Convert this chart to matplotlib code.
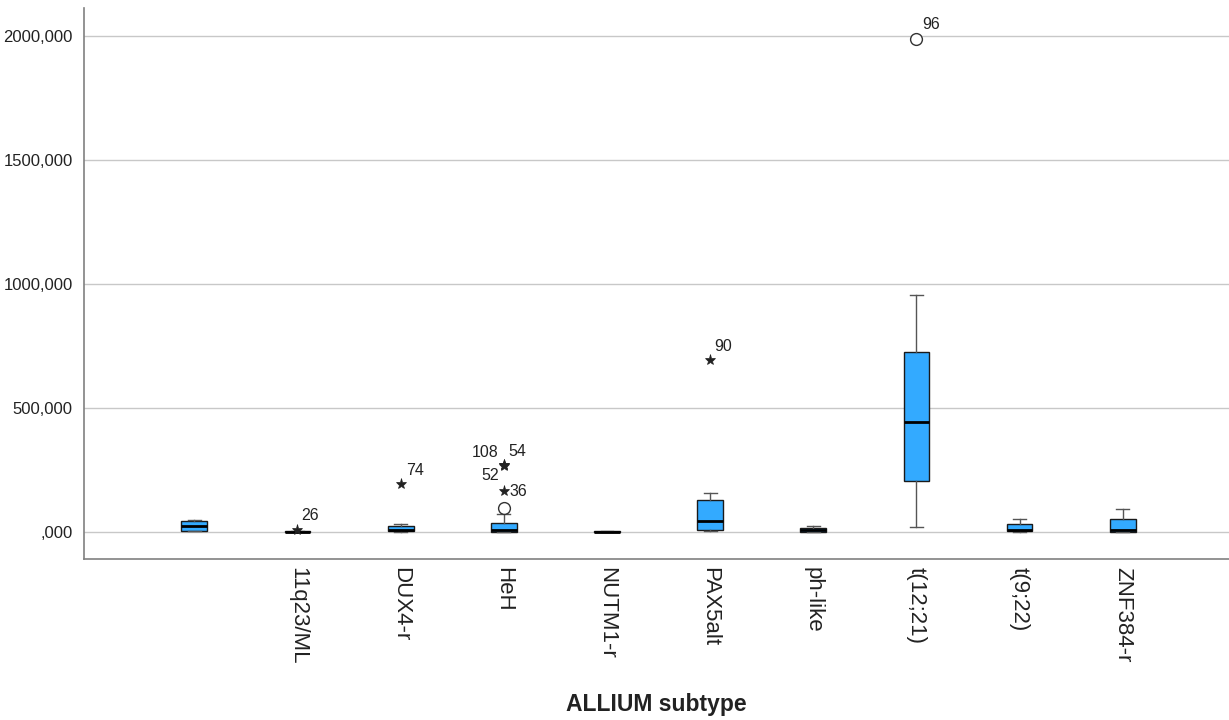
import matplotlib
matplotlib.use("Agg")
import matplotlib.pyplot as plt
from matplotlib.ticker import FuncFormatter, FixedLocator

plt.rcParams['font.family'] = ['Liberation Sans', 'DejaVu Sans']

# subtype groups (first group has no subtype recorded)
subtypes = ["", "11q23/ML", "DUX4-r", "HeH", "NUTM1-r", "PAX5alt",
            "ph-like", "t(12;21)", "t(9;22)", "ZNF384-r"]
whislo = [3, 0, 0, 0, 0, 2, 0, 20, 0, 0]
q1 = [5, 0, 2, 1, 0, 8, 0, 206, 4, 1]
med = [24, 1, 8, 6, 1, 43, 7, 442, 8, 6]
q3 = [44, 3, 24, 35, 2, 129, 17, 727, 31, 51]
whishi = [48, 3, 32, 72, 2, 158, 25, 956, 51, 93]

# outliers / extremes with case numbers
out_group = [1, 2, 3, 3, 3, 3, 3, 5, 7]
out_value = [8, 193, 97, 166, 268, 270, 272, 693, 1988]
out_kind = ["*", "*", "o", "*", "*", "*", "*", "*", "o"]
out_case = ["26", "74", "", "36", "52", "108", "54", "90", "96"]

yticks = [0, 500, 1000, 1500, 2000]

# where each case number sits relative to its marker (pixels)
case_offset = {
    "26": (4, 14, "left"), "74": (5, 14, "left"), "36": (6, -1, "left"),
    "52": (-5, -10, "right"), "108": (-5, 13, "right"), "54": (5, 13, "left"),
    "90": (4, 14, "left"), "96": (6, 14, "left"),
}

fig = plt.figure(figsize=(12.29, 7.2), dpi=100)
ax = fig.add_axes([0.0683, 0.2236, 0.9317, 0.7653])

stats = []
for i in range(len(subtypes)):
    stats.append(dict(med=med[i], q1=q1[i], q3=q3[i],
                      whislo=whislo[i], whishi=whishi[i], fliers=[]))

ax.bxp(stats, positions=range(len(subtypes)), widths=0.25,
       capwidths=0.125, patch_artist=True, showfliers=False,
       boxprops=dict(facecolor="#33AAFF", edgecolor="#1a1a1a", linewidth=1.0),
       medianprops=dict(color="black", linewidth=2.0),
       whiskerprops=dict(color="#555555", linewidth=1.0),
       capprops=dict(color="#555555", linewidth=1.0), zorder=3)

for g, v, k, c in zip(out_group, out_value, out_kind, out_case):
    if k == "o":
        ax.plot(g, v, marker="o", markersize=8.5, markerfacecolor="white",
                markeredgecolor="#333333", markeredgewidth=1.0, zorder=4)
    else:
        ax.plot(g, v, marker="*", markersize=8, color="#222222",
                markeredgewidth=0.5, zorder=4)
    if c:
        dx, dy, ha = case_offset[c]
        ax.annotate(c, (g, v), xytext=(dx, dy), textcoords="offset pixels",
                    ha=ha, va="center", fontsize=11.5, color="#222222")

ax.set_xlim(-1.07, 10.03)
ax.set_ylim(-109, 2113)

ax.yaxis.set_major_locator(FixedLocator(yticks))
ax.yaxis.set_major_formatter(FuncFormatter(
    lambda v, p: ",000" if v == 0 else "%d,000" % v))
ax.grid(axis="y", color="#c8c8c8", linewidth=1.0, zorder=0)
ax.set_axisbelow(True)

ax.set_xticks(range(len(subtypes)))
ax.set_xticklabels(subtypes, rotation=-90, fontsize=16, color="#222222",
                   va="top", ha="center")
ax.tick_params(axis="both", length=0)
ax.tick_params(axis="x", pad=6)
ax.tick_params(axis="y", pad=8, labelsize=12, labelcolor="#222222")

for s in ["top", "right"]:
    ax.spines[s].set_visible(False)
for s in ["left", "bottom"]:
    ax.spines[s].set_color("#808080")
    ax.spines[s].set_linewidth(1.2)

ax.set_xlabel("ALLIUM subtype", fontsize=16.5, fontweight="bold",
              color="#222222", labelpad=20)

fig.savefig("out.png", dpi=100)
